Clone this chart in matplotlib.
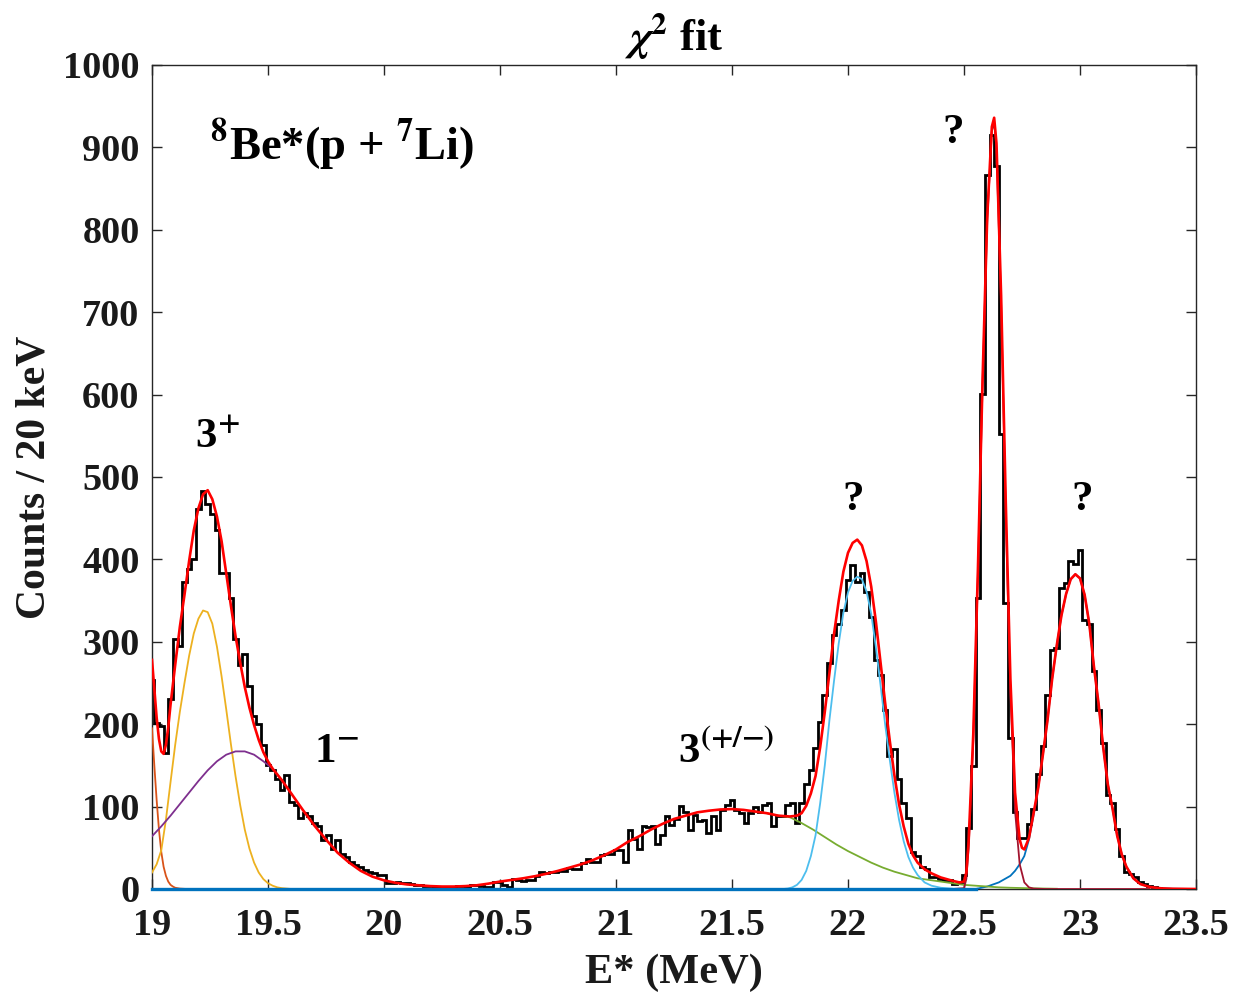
#!/usr/bin/env python3
"""chi^2 fit of the 8Be* excitation spectrum (p + 7Li channel)."""

import matplotlib

matplotlib.use("Agg")
import matplotlib.pyplot as plt

# histogram: 20 keV bins, centres 19.00, 19.02, ... 23.50
bin_first_centre = 19.00
bin_width = 0.02
counts = [
    254, 202, 198, 165, 230, 303, 295, 372, 388, 400, 461, 483, 467, 455, 436, 384,
    384, 353, 303, 272, 285, 246, 210, 200, 175, 150, 144, 134, 120, 138, 106, 102,
    86, 92, 88, 80, 76, 59, 65, 49, 59, 43, 39, 33, 29, 27, 23, 21,
    19, 17, 17, 7, 7, 9, 7, 7, 6, 5, 5, 4, 4, 3, 3, 3,
    3, 3, 4, 4, 2, 5, 5, 4, 3, 3, 8, 8, 5, 2, 12, 11,
    10, 11, 11, 16, 21, 20, 21, 21, 22, 22, 25, 24, 24, 31, 36, 33,
    33, 41, 43, 42, 47, 47, 33, 72, 61, 49, 77, 75, 77, 55, 66, 88,
    78, 85, 101, 94, 72, 90, 82, 84, 68, 88, 72, 96, 102, 108, 96, 92,
    80, 92, 100, 93, 102, 104, 77, 88, 88, 102, 104, 80, 104, 128, 145, 171,
    203, 236, 274, 308, 322, 339, 375, 393, 372, 383, 360, 330, 278, 260, 217, 161,
    170, 134, 104, 86, 45, 40, 27, 24, 15, 15, 12, 11, 11, 6, 9, 17,
    74, 149, 353, 601, 866, 915, 877, 552, 347, 183, 93, 62, 62, 79, 97, 140,
    174, 235, 290, 292, 365, 371, 398, 395, 411, 327, 322, 264, 217, 177, 114, 104,
    73, 40, 21, 18, 14, 8, 6, 4, 2, 1, 0, 0, 0, 0, 0, 0,
    0, 0,
]

# total fit (red)
fit_e = [
    19.00, 19.01, 19.02, 19.03, 19.04, 19.05, 19.06, 19.07, 19.08, 19.10, 19.12, 19.14,
    19.16, 19.18, 19.20, 19.22, 19.24, 19.26, 19.28, 19.30, 19.32, 19.34, 19.36, 19.38,
    19.40, 19.42, 19.44, 19.46, 19.48, 19.50, 19.52, 19.56, 19.60, 19.65, 19.70, 19.75,
    19.80, 19.85, 19.90, 19.95, 20.00, 20.05, 20.10, 20.15, 20.20, 20.25, 20.30, 20.35,
    20.40, 20.45, 20.50, 20.55, 20.60, 20.65, 20.70, 20.75, 20.80, 20.85, 20.90, 20.95,
    21.00, 21.05, 21.10, 21.15, 21.20, 21.25, 21.30, 21.35, 21.40, 21.45, 21.50, 21.55,
    21.60, 21.65, 21.70, 21.75, 21.78, 21.80, 21.82, 21.84, 21.86, 21.88, 21.90, 21.92,
    21.94, 21.96, 21.98, 22.00, 22.02, 22.04, 22.06, 22.08, 22.10, 22.12, 22.14, 22.16,
    22.18, 22.20, 22.22, 22.24, 22.26, 22.28, 22.30, 22.33, 22.36, 22.40, 22.45, 22.48,
    22.50, 22.51, 22.52, 22.54, 22.56, 22.58, 22.60, 22.62, 22.63, 22.64, 22.66, 22.68,
    22.70, 22.72, 22.74, 22.75, 22.76, 22.78, 22.80, 22.82, 22.84, 22.86, 22.88, 22.90,
    22.92, 22.94, 22.96, 22.98, 23.00, 23.02, 23.04, 23.06, 23.08, 23.10, 23.12, 23.14,
    23.16, 23.18, 23.20, 23.23, 23.26, 23.30, 23.35, 23.40, 23.50,
]
fit_c = [
    278, 243, 208, 182, 167, 164, 175, 196, 224, 272, 318, 357,
    398, 435, 462, 479, 484, 473, 452, 422, 383, 344, 307, 275,
    245, 220, 199, 181, 166, 155, 146, 132, 116, 96, 77, 60,
    44, 32, 22, 15, 10.5, 7.5, 5.5, 4.5, 3.5, 3, 3, 3.5,
    4.5, 6.5, 9, 11, 13, 15.5, 18.5, 22, 26, 30, 35, 41,
    48, 57, 64, 72, 79, 85, 89, 93, 95, 96.5, 97, 96,
    94, 92, 89, 88, 89, 92, 101, 116, 137, 172, 215, 262,
    310, 350, 385, 408, 420, 424, 417, 398, 367, 325, 276, 226,
    180, 138, 103, 76, 55, 41, 32, 24, 19, 14, 10, 8,
    9, 20, 58, 188, 388, 618, 815, 925, 936, 905, 720, 470,
    255, 117, 60, 50, 48, 62, 92, 123, 163, 205, 255, 296,
    332, 358, 376, 382, 377, 357, 322, 270, 225, 172, 127, 98,
    65, 42, 27, 13, 6, 2.5, 0.8, 0.3, 0,
]

# components
low_e = [19.00, 19.01, 19.02, 19.03, 19.04, 19.05, 19.06, 19.07, 19.08, 19.09, 19.10, 19.12, 19.15, 19.20]
low_c = [195, 150, 108, 72, 45, 27, 16, 9, 5, 3, 1.5, 0.5, 0, 0]

s3p_e = [19.00, 19.02, 19.04, 19.06, 19.08, 19.10, 19.12, 19.14, 19.16, 19.18, 19.20, 19.22,
         19.24, 19.26, 19.28, 19.30, 19.32, 19.34, 19.36, 19.38, 19.40, 19.42, 19.44, 19.46,
         19.48, 19.50, 19.52, 19.54, 19.56, 19.58, 19.60]
s3p_c = [20, 30, 47, 84, 130, 175, 215, 250, 283, 310, 328, 338,
         336, 322, 294, 258, 218, 176, 137, 102, 72, 49, 32, 20,
         12, 7, 4, 2, 1, 0.5, 0]

s1m_e = [19.00, 19.04, 19.08, 19.12, 19.16, 19.20, 19.24, 19.28, 19.32, 19.36, 19.40, 19.44,
         19.48, 19.52, 19.56, 19.60]
s1m_c = [64, 76, 89, 103, 117, 131, 144, 155, 163, 167, 167, 163, 155, 146, 132, 116]

s3x_e = [21.60, 21.65, 21.70, 21.75, 21.80, 21.85, 21.90, 21.95, 22.00, 22.05, 22.10, 22.15,
         22.20, 22.25, 22.30, 22.35, 22.40, 22.45, 22.50, 22.55, 22.60, 22.65, 22.70, 22.80, 22.90]
s3x_c = [94, 92, 89, 87, 80, 72, 63, 54, 46, 39, 32, 26,
         21, 17, 13, 11, 9, 7, 5, 4, 3, 2, 1.5, 0.8, 0.3]

q22_e = [21.72, 21.74, 21.76, 21.78, 21.80, 21.82, 21.84, 21.86, 21.88, 21.90, 21.92, 21.94,
         21.96, 21.98, 22.00, 22.02, 22.04, 22.06, 22.08, 22.10, 22.12, 22.14, 22.16, 22.18,
         22.20, 22.22, 22.24, 22.26, 22.28, 22.30, 22.33, 22.36, 22.40, 22.45]
q22_c = [0, 0.5, 2, 5, 11, 22, 40, 65, 104, 150, 205, 253,
         298, 335, 360, 374, 379, 376, 361, 334, 294, 248, 200, 157,
         117, 84, 58, 39, 26, 17, 8, 4, 1.5, 0.3]

q226_e = [22.45, 22.50, 22.51, 22.52, 22.54, 22.56, 22.58, 22.60, 22.62, 22.63, 22.64, 22.66,
          22.68, 22.70, 22.72, 22.74, 22.76, 22.78, 22.80, 22.85, 23.30]
q226_c = [0, 1, 12, 50, 180, 382, 613, 810, 920, 930, 898, 710,
          455, 238, 95, 30, 8, 2, 0.5, 0, 0]

q23_e = [19.00, 22.55, 22.60, 22.65, 22.70, 22.72, 22.74, 22.76, 22.78, 22.80, 22.82, 22.84,
         22.86, 22.88, 22.90, 22.92, 22.94, 22.96, 22.98, 23.00, 23.02, 23.04, 23.06, 23.08,
         23.10, 23.12, 23.14, 23.16, 23.18, 23.20, 23.23, 23.26, 23.30, 23.35, 23.40, 23.50]
q23_c = [0, 0, 3, 8, 16, 22, 30, 40, 60, 90, 123, 163,
         205, 255, 296, 332, 358, 376, 382, 377, 357, 322, 270, 225,
         172, 127, 98, 65, 42, 27, 13, 6, 2.5, 0.8, 0.3, 0]

x_ticks = [19, 19.5, 20, 20.5, 21, 21.5, 22, 22.5, 23, 23.5]
x_tick_labels = ["19", "19.5", "20", "20.5", "21", "21.5", "22", "22.5", "23", "23.5"]
y_ticks = list(range(0, 1001, 100))

SERIF = ["Liberation Serif", "DejaVu Serif"]
plt.rcParams["font.family"] = SERIF
plt.rcParams["font.weight"] = "bold"
plt.rcParams["mathtext.fontset"] = "stix"
AX_GREY = "#262626"


def main() -> int:
    fig = plt.figure(figsize=(12.43, 9.92), dpi=100)
    ax = fig.add_axes([152 / 1243, 103 / 992, 1044 / 1243, 824 / 992])

    edges = [bin_first_centre - bin_width / 2 + k * bin_width for k in range(len(counts) + 1)]
    ax.stairs(counts, edges, color="black", linewidth=2.0, baseline=None, zorder=2)

    comps = [
        (q23_e, q23_c, "#0072BD"),
        (low_e, low_c, "#D95319"),
        (s3p_e, s3p_c, "#EDB120"),
        (s1m_e, s1m_c, "#7E2F8E"),
        (s3x_e, s3x_c, "#77AC30"),
        (q22_e, q22_c, "#4DBEEE"),
        (q226_e, q226_c, "#A2142F"),
    ]
    for e, c, col in comps:
        ax.plot(e, c, color=col, linewidth=1.3, zorder=3)
    # baseline of the 23 MeV component stays on top along the axis
    ax.plot(q23_e[:2], q23_c[:2], color="#0072BD", linewidth=2.4, zorder=3.5, clip_on=False)
    ax.plot(fit_e, fit_c, color="red", linewidth=1.9, zorder=4)

    ax.set_xlim(19, 23.5)
    ax.set_ylim(0, 1000)
    ax.set_xticks(x_ticks)
    ax.set_xticklabels(x_tick_labels)
    ax.set_yticks(y_ticks)
    ax.tick_params(direction="in", length=7, width=1.0, color=AX_GREY, top=True, right=True,
                   labelsize=27.5, labelcolor="#1a1a1a")
    ax.tick_params(axis="x", pad=14)
    ax.tick_params(axis="y", pad=9)
    for lab in ax.get_xticklabels() + ax.get_yticklabels():
        lab.set_fontweight("bold")
    for spine in ax.spines.values():
        spine.set_color(AX_GREY)
        spine.set_linewidth(1.0)

    ax.set_xlabel("E* (MeV)", fontsize=30.5, fontweight="bold", color="#1a1a1a")
    ax.xaxis.set_label_coords(0.5, -0.102)
    ax.xaxis.label.set_va("center")
    ax.set_ylabel("Counts / 20 keV", fontsize=30, fontweight="bold", color="#1a1a1a")
    ax.yaxis.set_label_coords(-0.113, 0.5)
    ax.yaxis.label.set_va("center")

    ax.text(0.5, 1.034, r"$\chi^{\mathbf{2}}$ fit", transform=ax.transAxes, ha="center",
            va="center", fontsize=32, fontweight="bold")

    big = dict(fontsize=31, fontweight="bold", color="black", zorder=5)
    ax.text(19.25, 885, r"$^{\mathbf{8}}$Be*(p + $^{\mathbf{7}}$Li)", ha="left", va="baseline",
            **{**big, "fontsize": 33.5})
    ax.text(19.185, 535, r"3$^{+}$", ha="left", va="baseline", **big)
    ax.text(19.70, 154, r"1$^{-}$", ha="left", va="baseline", **big)
    ax.text(21.267, 154, r"3$^{\mathbf{(}{+}/{-}\mathbf{)}}$", ha="left", va="baseline", **big)
    ax.text(22.022, 460, "?", ha="center", va="baseline", **big)
    ax.text(22.453, 905, "?", ha="center", va="baseline", **big)
    ax.text(23.009, 460, "?", ha="center", va="baseline", **big)

    fig.savefig("out.png", dpi=100)
    plt.close(fig)
    return 0


if __name__ == "__main__":
    raise SystemExit(main())
